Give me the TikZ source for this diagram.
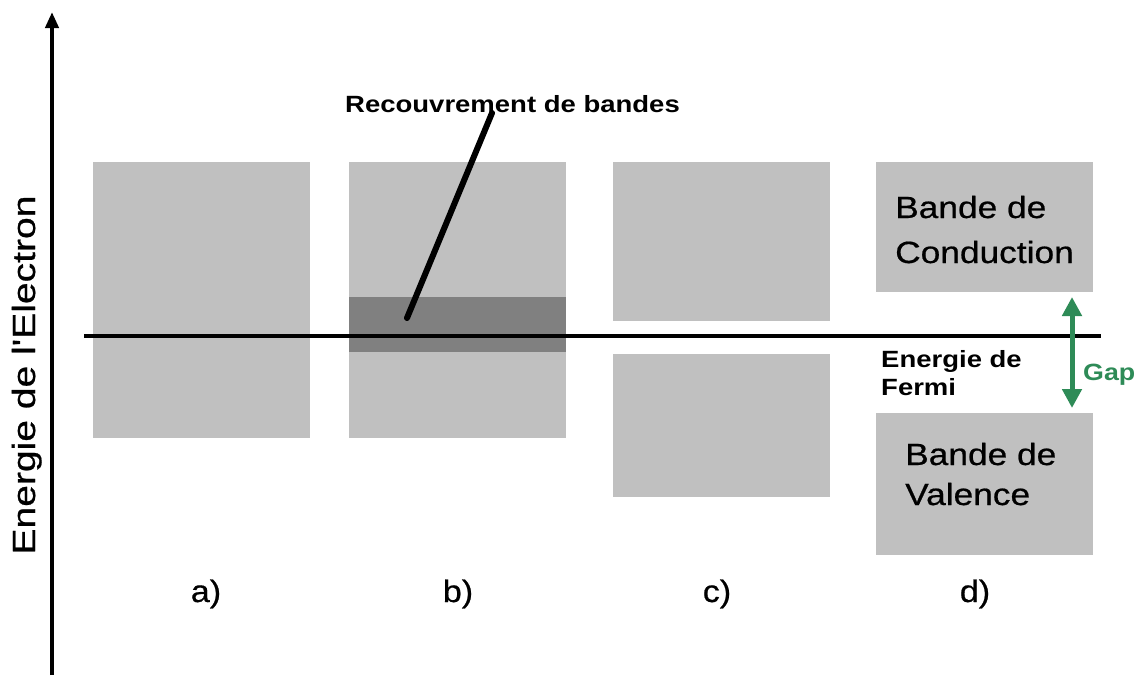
\documentclass[tikz,border=0pt]{standalone}
\usepackage{fontspec}
\setmainfont{Liberation Sans}
\newfontfamily\heavyreg[FakeBold=0.6]{Liberation Sans}
\usetikzlibrary{arrows.meta}
\definecolor{boxgray}{RGB}{192,192,192}
\definecolor{bandgray}{RGB}{128,128,128}
\definecolor{gapgreen}{RGB}{46,139,87}
\tikzset{
  box/.style={fill=boxgray, draw=none, inner sep=0pt, outer sep=0pt, anchor=north west},
  overlap/.style={fill=bandgray, draw=none, inner sep=0pt, outer sep=0pt, anchor=north west},
  bigtxt/.style={inner sep=0pt, anchor=base west, font=\heavyreg\fontsize{30.7}{30.7}\selectfont},
  boldtxt/.style={inner sep=0pt, anchor=base west, font=\bfseries\fontsize{23.5}{23.5}\selectfont},
  lbl/.style={inner sep=0pt, anchor=base, font=\heavyreg\fontsize{31}{31}\selectfont},
  thickline/.style={line width=4.5pt},
}
\begin{document}
\begin{tikzpicture}[x=1pt,y=-1pt]
\useasboundingbox (0,0) rectangle (1143,675);
% bands
\node[box, minimum width=217pt, minimum height=276pt] (ba) at (93,162) {};
\node[box, minimum width=217pt, minimum height=276pt] (bb) at (349,162) {};
\node[overlap, minimum width=217pt, minimum height=55pt] (ov) at (349,297) {};
\node[box, minimum width=217pt, minimum height=159pt] (cu) at (613,162) {};
\node[box, minimum width=217pt, minimum height=143pt] (cl) at (613,354) {};
\node[box, minimum width=217pt, minimum height=130pt] (du) at (876,162) {};
\node[box, minimum width=217pt, minimum height=142pt] (dl) at (876,413) {};
% energy axis
\coordinate (axb) at (52,675);
\coordinate (axt) at (52,12);
\draw[thickline, -{Triangle[width=13pt,length=16pt]}] (axb) -- (axt);
% Fermi level
\coordinate (fl) at (84,336);
\coordinate (fr) at (1101,336);
\draw[line width=4pt] (fl) -- (fr);
% pointer
\coordinate (pa) at (407,318);
\coordinate (pb) at (492,113);
\draw[line width=6pt, line cap=round] (pa) -- (pb);
% gap arrow
\coordinate (gt) at (1072,297);
\coordinate (gb) at (1072,408);
\draw[gapgreen, line width=5pt, {Triangle[width=19pt,length=19pt]}-{Triangle[width=19pt,length=19pt]}] (gb) -- (gt);
% texts
\node[boldtxt] (rec) at (345,112) {\scalebox{1.17}[1]{Recouvrement de bandes}};
\node[bigtxt] (bc1) at (895,218) {\scalebox{1.15}[1]{Bande de}};
\node[bigtxt] (bc2) at (895,263) {\scalebox{1.15}[1]{Conduction}};
\node[bigtxt] (bv1) at (905,465) {\scalebox{1.15}[1]{Bande de}};
\node[bigtxt] (bv2) at (905,505) {\scalebox{1.15}[1]{Valence}};
\node[boldtxt] (ef1) at (881,367) {\scalebox{1.17}[1]{Energie de}};
\node[boldtxt] (ef2) at (881,395) {\scalebox{1.17}[1]{Fermi}};
\node[boldtxt, text=gapgreen] (gap) at (1083,380) {\scalebox{1.14}[1]{Gap}};
\node[lbl] (la) at (206,602) {\scalebox{1.1}[1]{a)}};
\node[lbl] (lb) at (458,602) {\scalebox{1.1}[1]{b)}};
\node[lbl] (lc) at (717,602) {\scalebox{1.1}[1]{c)}};
\node[lbl] (ld) at (975,602) {\scalebox{1.1}[1]{d)}};
\node[inner sep=0pt, anchor=base, rotate=90, font=\heavyreg\fontsize{32}{32}\selectfont] (ax) at (35,375) {\scalebox{1.22}[1]{Energie de l\textquotesingle Electron}};
\end{tikzpicture}
\end{document}
